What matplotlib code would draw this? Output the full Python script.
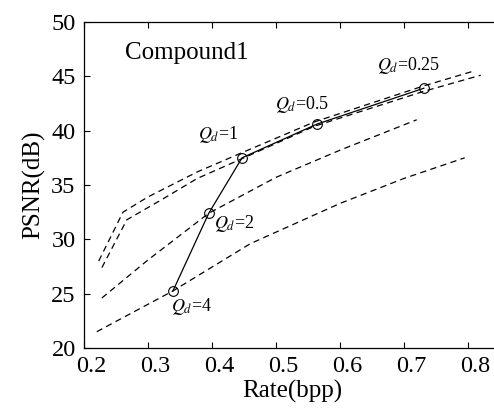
import numpy as np
import matplotlib
matplotlib.use('Agg')
import matplotlib.pyplot as plt
from matplotlib.transforms import ScaledTranslation

plt.rcParams['font.family'] = ['Liberation Serif', 'DejaVu Serif']
plt.rcParams['mathtext.fontset'] = 'stix'

# operating points (solid line)
qdRate = [0.339, 0.395, 0.447, 0.564, 0.731]
qdPsnr = [25.25, 32.4, 37.5, 40.6, 43.9]
qdText = ['4', '2', '1', '0.5', '0.25']
qdLabelX = [0.336, 0.403, 0.378, 0.498, 0.658]
qdLabelY = [23.8, 31.5, 39.6, 42.4, 46.0]

# dashed R-D curves
rateA = [0.223, 0.261, 0.30, 0.377, 0.448, 0.56, 0.73, 0.81]
psnrA = [28.0, 32.5, 33.9, 36.2, 38.0, 40.8, 44.1, 45.5]
rateB = [0.228, 0.267, 0.32, 0.377, 0.45, 0.56, 0.73, 0.82]
psnrB = [27.4, 31.8, 33.6, 35.6, 37.5, 40.4, 43.6, 45.1]
rateC = [0.228, 0.30, 0.395, 0.50, 0.60, 0.72]
psnrC = [24.6, 28.1, 32.4, 35.7, 38.2, 41.0]
rateD = [0.22, 0.339, 0.46, 0.60, 0.70, 0.795]
psnrD = [21.5, 25.25, 29.6, 33.3, 35.6, 37.5]

fig = plt.figure(figsize=(4.94, 4.16), dpi=100)
ax = fig.add_axes([0.170, 0.1635, 0.842, 0.7837])

dash = (0, (5, 3.5))
for r, p in [(rateA, psnrA), (rateB, psnrB), (rateC, psnrC), (rateD, psnrD)]:
	ax.plot(r, p, color='black', linestyle=dash, linewidth=0.9)

ax.plot(qdRate, qdPsnr, color='black', linewidth=0.9, marker='o', markersize=7,
	markerfacecolor='none', markeredgewidth=0.8)

for i in range(len(qdText)):
	ax.text(qdLabelX[i], qdLabelY[i], '$Q_d$=' + qdText[i], fontsize=13, va='center', ha='left')

ax.text(0.264, 47.1, 'Compound1', fontsize=18, va='center', ha='left')

ax.set_xlim(0.2, 0.85)
ax.set_ylim(20, 50)
ax.set_xticks([0.2, 0.3, 0.4, 0.5, 0.6, 0.7, 0.8])
ax.set_yticks([20, 25, 30, 35, 40, 45, 50])
ax.set_xticklabels(['0.2', '0.3', '0.4', '0.5', '0.6', '0.7', '0.8'])
ax.tick_params(direction='in', length=4, width=0.8, labelsize=17.5, top=True, right=True, pad=6)
# x tick labels sit a little to the right of their ticks in the original
shift = ScaledTranslation(7 / 100, 0, fig.dpi_scale_trans)
for lbl in ax.get_xticklabels():
	lbl.set_transform(lbl.get_transform() + shift)
ax.set_xlabel('Rate(bpp)', fontsize=18, labelpad=2)
ax.set_ylabel('PSNR(dB)', fontsize=18, labelpad=4)
for s in ax.spines.values():
	s.set_linewidth(0.9)

fig.savefig('out.png', dpi=100)
